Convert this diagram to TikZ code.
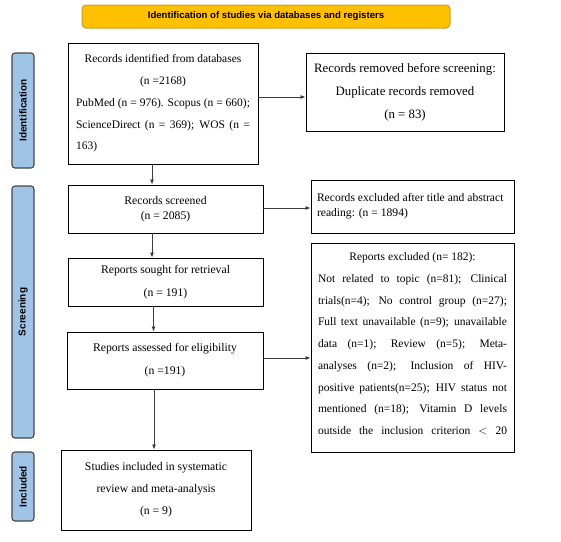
\documentclass[tikz,border=0pt]{standalone}
\usepackage{fontspec}
\setmainfont{Liberation Serif}
\setsansfont{Liberation Sans}
\usetikzlibrary{arrows.meta}
\definecolor{bannerfill}{RGB}{255,192,0}
\definecolor{bannerdraw}{RGB}{200,160,40}
\definecolor{sidefill}{RGB}{160,196,230}
\definecolor{sidedraw}{RGB}{70,70,70}
\definecolor{linec}{RGB}{60,60,60}
\newcommand{\fl}[2]{\makebox[#1][s]{#2}}
\tikzset{
  box/.style={draw=black, line width=0.9pt, fill=white, inner sep=4pt, align=center,
    font=\fontsize{11.7}{22}\selectfont},
  side/.style={draw=sidedraw, line width=1.1pt, fill=sidefill, rounded corners=3pt, rotate=90,
    minimum height=22pt, inner sep=0pt, font=\sffamily\bfseries\fontsize{10}{11}\selectfont},
  conn/.style={draw=linec, line width=0.8pt, -{Latex[length=5pt,width=4pt]}}
}
\begin{document}
\begin{tikzpicture}[x=1pt,y=-1pt]
\useasboundingbox (0,0) rectangle (561,541);
\node[draw=bannerdraw, line width=1pt, fill=bannerfill, rounded corners=4pt,
  minimum width=368pt, minimum height=23pt, font=\sffamily\bfseries\fontsize{9.6}{10}\selectfont]
  (banner) at (266,16.5) {Identification of studies via databases and registers};
\node[side, minimum width=115pt] (idlab) at (23,110.5) {Identification};
\node[side, minimum width=252pt] (scrlab) at (23,312) {Screening};
\node[side, minimum width=69pt] (inclab) at (23,486.5) {Included};

\node[box, minimum width=190pt, minimum height=121pt, font=\fontsize{11.5}{21.7}\selectfont] (ident) at (163,103.5)
  {Records identified from databases\\(n =2168)\\
   \fl{174pt}{PubMed (n = 976). Scopus (n = 660);}\\
   \fl{174pt}{ScienceDirect (n = 369); WOS (n =}\\
   \makebox[174pt][l]{163)}};
\node[box, minimum width=198pt, minimum height=78pt, font=\fontsize{12.8}{23}\selectfont] (removed) at (405,92)
  {Records removed before screening:\\Duplicate records removed\\(n = 83)};
\node[box, minimum width=195pt, minimum height=48pt, font=\fontsize{11.7}{15}\selectfont] (screened) at (165.5,209)
  {Records screened\\(n = 2085)};
\node[box, minimum width=203pt, minimum height=53pt, font=\fontsize{11.6}{15}\selectfont] (excl1) at (412.5,206.5)
  {\makebox[191pt][l]{Records excluded after title and abstract}\\
   \makebox[191pt][l]{reading: (n = 1894)}};
\node[box, minimum width=195pt, minimum height=48pt, font=\fontsize{11.7}{23}\selectfont] (sought) at (165.5,282)
  {Reports sought for retrieval\\(n = 191)};
\node[box, minimum width=196pt, minimum height=57pt, font=\fontsize{11.7}{23}\selectfont] (assessed) at (165,360.5)
  {Reports assessed for eligibility\\(n =191)};
\node[box, minimum width=203pt, minimum height=209pt, font=\fontsize{11.5}{21.7}\selectfont] (excl2) at (412.5,347.5)
  {Reports excluded (n= 182):\\
   \fl{189pt}{Not related to topic (n=81); Clinical}\\
   \fl{189pt}{trials(n=4); No control group (n=27);}\\
   \fl{189pt}{Full text unavailable (n=9); unavailable}\\
   \fl{189pt}{data (n=1); Review (n=5); Meta-}\\
   \fl{189pt}{analyses (n=2); Inclusion of HIV-}\\
   \fl{189pt}{positive patients(n=25); HIV status not}\\
   \fl{189pt}{mentioned (n=18); Vitamin D levels}\\
   \fl{189pt}{outside the inclusion criterion $<$ 20}\\[-14pt]\mbox{}};
\node[box, minimum width=190pt, minimum height=80pt, font=\fontsize{11.7}{22}\selectfont] (included) at (156,490)
  {Studies included in systematic\\review and meta-analysis\\(n = 9)};

\draw[conn] (ident.east |- {(0,97)}) -- ({(0,97)} -| removed.west);
\draw[conn] ([xshift=-11pt]ident.south) -- ([xshift=-11pt]ident.south |- screened.north);
\draw[conn] (screened.east |- {(0,208)}) -- ({(0,208)} -| excl1.west);
\draw[conn] ([xshift=-13.5pt]screened.south) -- ([xshift=-13.5pt]screened.south |- sought.north);
\draw[conn] ([xshift=-12pt]sought.south) -- ([xshift=-12pt]sought.south |- assessed.north);
\draw[conn] (assessed.east |- {(0,358)}) -- ({(0,358)} -| excl2.west);
\draw[conn] ([xshift=-11pt]assessed.south) -- ([xshift=-11pt]assessed.south |- included.north);
\end{tikzpicture}
\end{document}
